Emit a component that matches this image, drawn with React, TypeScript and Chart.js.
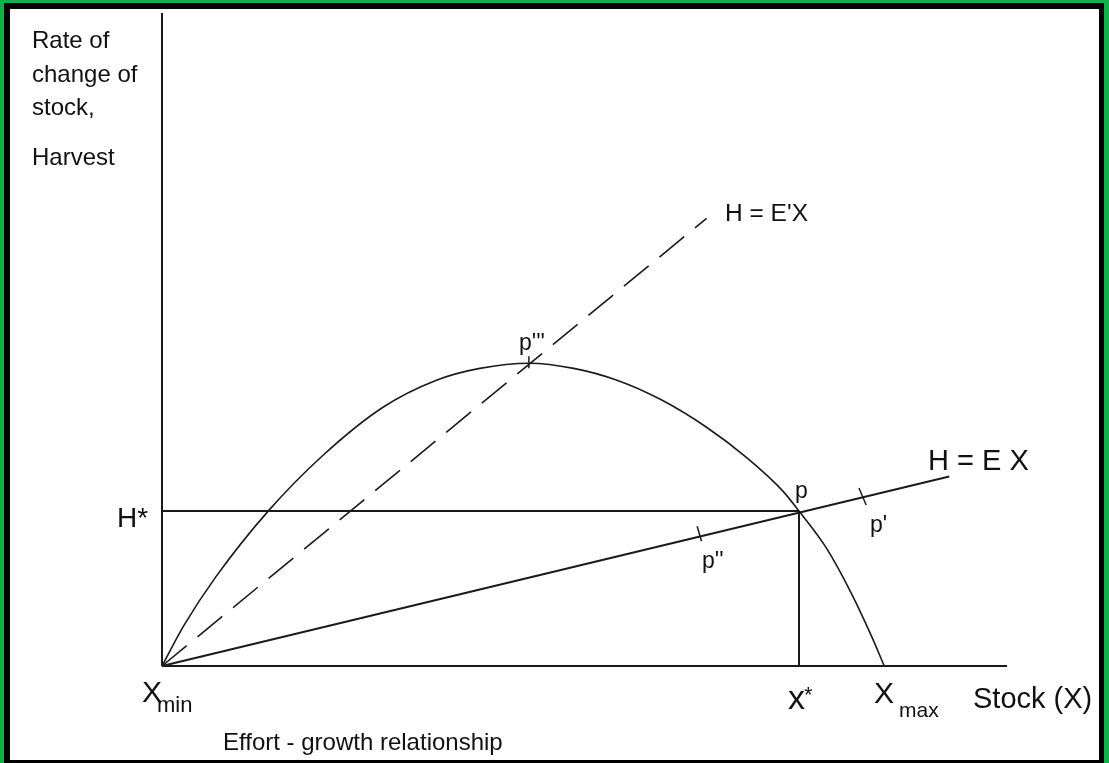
import React, { useEffect, useRef } from "react";
import { Chart, registerables } from "chart.js";

Chart.register(...registerables);

// Growth curve (stock units: Xmin = 0, Xmax = 100; harvest units: MSY ≈ 100)
const growthX = [0, 3, 7.5, 14.7, 22.3, 30.6, 38, 44, 50.9, 57, 63, 69, 75.4, 81, 86, 88.2, 92, 95.5, 98.3, 100];
const growthY = [0, 13.2, 29.5, 51.0, 69.4, 85.2, 94.1, 98.0, 99.7, 98.0, 94.1, 87.8, 78.6, 68.5, 57.5, 51.0, 38.8, 23.7, 9.5, 0];

// Effort lines H = E X and H = E'X
const effortLineX = [0, 109.0];
const effortLineY = [0, 62.4];
const effortPrimeX = [0, 75.4];
const effortPrimeY = [0, 147.4];

// Equilibrium point p
const xStar = 88.2;
const hStar = 51.0;

// Tick marks on the effort line (p'' and p') and at p'''
const tickPP2X = [74.1, 74.7];
const tickPP2Y = [46.0, 41.1];
const tickPP1X = [96.5, 97.5];
const tickPP1Y = [58.6, 53.0];
const tickP3X = [50.8, 50.8];
const tickP3Y = [102.0, 98.0];

// Axis extents
const xAxisEnd = 117;
const yAxisEnd = 215;

const FONT = '"Liberation Sans", Arial, sans-serif';

const labels: { t: string; x: number; y: number; s: number }[] = [
  { t: "Rate of", x: 32, y: 48, s: 24 },
  { t: "change of", x: 32, y: 82, s: 24 },
  { t: "stock,", x: 32, y: 115, s: 24 },
  { t: "Harvest", x: 32, y: 165, s: 24 },
  { t: "H = E'X", x: 725, y: 221, s: 24.5 },
  { t: "p'''", x: 519, y: 350, s: 23 },
  { t: "p", x: 795, y: 498, s: 23 },
  { t: "p'", x: 870, y: 532, s: 23 },
  { t: "p''", x: 702, y: 568, s: 23 },
  { t: "H = E X", x: 928, y: 470, s: 29 },
  { t: "H*", x: 117, y: 527, s: 28 },
  { t: "X", x: 142, y: 702, s: 30 },
  { t: "min", x: 157, y: 712, s: 22 },
  { t: "x", x: 788, y: 709, s: 34 },
  { t: "*", x: 804, y: 702, s: 22 },
  { t: "X", x: 874, y: 703, s: 30 },
  { t: "max", x: 899, y: 717, s: 21 },
  { t: "Stock (X)", x: 973, y: 708, s: 29 },
  { t: "Effort - growth relationship", x: 223, y: 750, s: 24 },
];

const pts = (xs: number[], ys: number[]) => xs.map((x, i) => ({ x, y: ys[i] }));

export default function App() {
  const ref = useRef<HTMLCanvasElement | null>(null);

  useEffect(() => {
    document.body.style.margin = "0";
    const canvas = ref.current;
    if (!canvas) return;
    const ink = "#1a1a1a";
    const base = {
      showLine: true,
      pointRadius: 0,
      borderColor: ink,
      fill: false,
      clip: false as const,
    };
    const textPlugin = {
      id: "texts",
      afterDraw(chart: Chart) {
        const ctx = chart.ctx;
        ctx.save();
        ctx.fillStyle = "#111";
        ctx.textBaseline = "alphabetic";
        ctx.textAlign = "left";
        for (const l of labels) {
          ctx.font = `${l.s}px ${FONT}`;
          ctx.fillText(l.t, l.x, l.y);
        }
        ctx.restore();
      },
    };
    const chart = new Chart(canvas, {
      type: "scatter",
      data: {
        datasets: [
          { ...base, data: pts([0, 0], [0, yAxisEnd]), borderWidth: 2 },
          { ...base, data: pts([0, xAxisEnd], [0, 0]), borderWidth: 2 },
          { ...base, data: pts(growthX, growthY), borderWidth: 1.6, cubicInterpolationMode: "monotone" },
          { ...base, data: pts(effortLineX, effortLineY), borderWidth: 2 },
          { ...base, data: pts(effortPrimeX, effortPrimeY), borderWidth: 1.6, borderDash: [32, 14] },
          { ...base, data: pts([0, xStar], [hStar, hStar]), borderWidth: 2 },
          { ...base, data: pts([xStar, xStar], [0, hStar]), borderWidth: 2 },
          { ...base, data: pts(tickPP2X, tickPP2Y), borderWidth: 1.5 },
          { ...base, data: pts(tickPP1X, tickPP1Y), borderWidth: 1.5 },
          { ...base, data: pts(tickP3X, tickP3Y), borderWidth: 1.5 },
        ],
      },
      options: {
        responsive: false,
        animation: false,
        devicePixelRatio: 1,
        layout: { padding: { left: 162, right: 102, top: 13, bottom: 97 } },
        scales: {
          x: { type: "linear", min: 0, max: xAxisEnd, display: false },
          y: { type: "linear", min: 0, max: yAxisEnd, display: false },
        },
        plugins: { legend: { display: false }, tooltip: { enabled: false } },
        events: [],
      },
      plugins: [textPlugin],
    });
    return () => chart.destroy();
  }, []);

  return (
    <div style={{ position: "fixed", left: 0, top: 0, width: 1109, height: 763, background: "#12b04a", overflow: "hidden" }}>
      <div style={{ position: "absolute", left: 4, top: 3, width: 1100, height: 760, background: "#000" }} />
      <div style={{ position: "absolute", left: 10, top: 9, width: 1089, height: 751, background: "#fff" }} />
      <canvas ref={ref} width={1109} height={763} style={{ position: "absolute", left: 0, top: 0, width: 1109, height: 763 }} />
    </div>
  );
}
